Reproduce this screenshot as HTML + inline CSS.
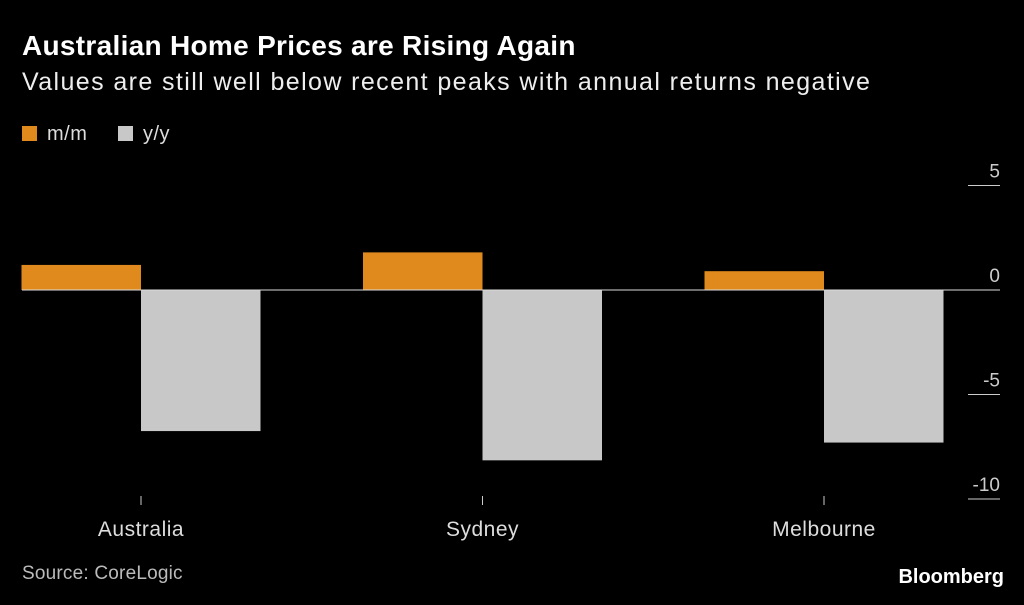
<!DOCTYPE html>
<html><head><meta charset="utf-8"><style>
body{margin:0;background:#000;width:1024px;height:605px;overflow:hidden;font-family:"Liberation Sans",sans-serif;color:#fff}
.t{position:absolute;left:22px;top:30px;font-size:28px;font-weight:bold;white-space:nowrap;letter-spacing:0.3px}
.s{position:absolute;left:22px;top:68px;font-size:25px;letter-spacing:1.4px;color:#eee;white-space:nowrap}
.lg{position:absolute;top:123px;font-size:20px;color:#ddd;letter-spacing:0.5px}
.sw{display:inline-block;width:15px;height:15px;vertical-align:-1px;margin-right:10px}
.src{position:absolute;left:22px;top:563px;font-size:19px;color:#bbb;letter-spacing:0.2px}
.bb{position:absolute;right:20px;top:566px;font-size:20px;font-weight:bold}
</style></head><body>
<div class="t">Australian Home Prices are Rising Again</div>
<div class="s">Values are still well below recent peaks with annual returns negative</div>
<div class="lg" style="left:22px"><span class="sw" style="background:#e08a1e"></span>m/m</div>
<div class="lg" style="left:118px"><span class="sw" style="background:#c8c8c8"></span>y/y</div>
<svg id="c" width="1024" height="605" style="position:absolute;left:0;top:0"></svg>
<div class="src">Source: CoreLogic</div>
<div class="bb">Bloomberg</div>
<script>
const categories=["Australia","Sydney","Melbourne"];
const mm=[1.2,1.8,0.9];
const yy=[-6.75,-8.15,-7.3];
const ticks=[5,0,-5,-10];
const NS="http://www.w3.org/2000/svg";
const svg=document.getElementById('c');
const y=v=>290-v*20.9;
const cx=i=>141+i*341.5;
const bw=119.5;
function el(t,a){const e=document.createElementNS(NS,t);for(const k in a)e.setAttribute(k,a[k]);svg.appendChild(e);return e;}
ticks.forEach(t=>{
  if(t!==0){const l=el('line',{x1:968,x2:1000,y1:y(t),y2:y(t),stroke:'#ccc','stroke-width':1});
  
  }
  const tx=el('text',{x:1000,y:y(t)-8,'text-anchor':'end',fill:'#ccc','font-size':19,'font-family':'Liberation Sans'});
  tx.textContent=t;
  
  
});
categories.forEach((c,i)=>{
  const a=el('rect',{x:cx(i)-bw,y:Math.min(y(mm[i]),y(0)),width:bw,height:Math.abs(y(mm[i])-y(0)),fill:'#e08a1e'});
  
  
  const b=el('rect',{x:cx(i),y:Math.min(y(yy[i]),y(0)),width:bw,height:Math.abs(y(yy[i])-y(0)),fill:'#c8c8c8'});
  
  
  const tk=el('line',{x1:cx(i),x2:cx(i),y1:496,y2:505,stroke:'#ccc','stroke-width':1});
  
  
  const lb=el('text',{x:cx(i),y:536,'text-anchor':'middle',fill:'#ddd','font-size':21,'letter-spacing':0.5,'font-family':'Liberation Sans'});
  lb.textContent=c;
  
  
});
const z=el('line',{x1:22,x2:1000,y1:y(0),y2:y(0),stroke:'#ddd','stroke-width':1});


</script>
</body></html>
